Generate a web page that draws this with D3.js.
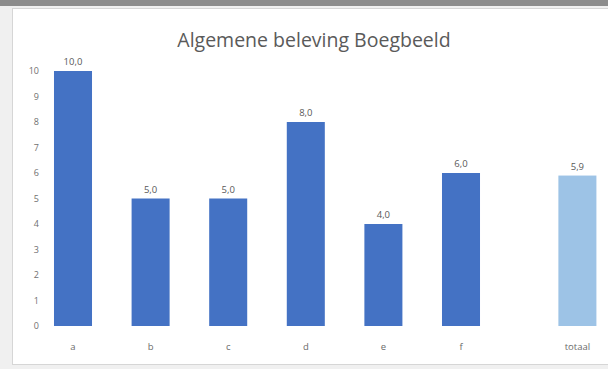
<!DOCTYPE html>
<html><head><meta charset="utf-8">
<script src="https://cdn.jsdelivr.net/npm/d3@7"></script>
<style>
html,body{margin:0;padding:0;background:#efefef;}
svg{display:block;}
</style></head>
<body>
<script>
const categories = ["a","b","c","d","e","f"];
const values = [10, 5, 5, 8, 4, 6];
const totalLabel = "totaal";
const totalValue = 5.9;
const yTicks = [0,1,2,3,4,5,6,7,8,9,10];
const title = "Algemene beleving Boegbeeld";

const W = 608, H = 369;
const svg = d3.select("body").append("svg").attr("width", W).attr("height", H);

// backgrounds
svg.append("rect").attr("x",0).attr("y",0).attr("width",W).attr("height",H).attr("fill","#f0f0f0");
svg.append("rect").attr("x",0).attr("y",0).attr("width",W).attr("height",6).attr("fill","#8c8c8c");
svg.append("rect").attr("x",12.5).attr("y",8.5).attr("width",W).attr("height",356)
  .attr("fill","#ffffff").attr("stroke","#d6d6d6");

const fmt = v => d3.format(".1f")(v).replace(".", ",");

const x = d3.scaleBand().domain(categories).range([34.2, 499.8]).paddingInner(0.51).paddingOuter(0.255);
const y = d3.scaleLinear().domain([0,10]).range([326, 71]);
const bw = x.bandwidth();
const totalX = x(categories[categories.length-1]) + 1.5 * x.step();

// y axis labels
const yAxis = d3.axisLeft(y).tickValues(yTicks).tickSize(0).tickPadding(0).tickFormat(d3.format("d"));
const ya = svg.append("g").attr("transform","translate(39,0)").call(yAxis);
ya.select(".domain").remove();
ya.selectAll("text").attr("fill","#707070").attr("font-size","9px").attr("font-family","Open Sans, sans-serif");

// bars
svg.selectAll(".bar").data(categories.map((c,i)=>({c, v: values[i]}))).enter()
  .append("rect").attr("x", d=>x(d.c)).attr("y", d=>y(d.v)).attr("width", bw)
  .attr("height", d=>y(0)-y(d.v)).attr("fill","#4472c4");
svg.append("rect").attr("x", totalX).attr("y", y(totalValue)).attr("width", bw)
  .attr("height", y(0)-y(totalValue)).attr("fill","#9dc3e6");

// value labels
const lab = {fill:"#595959", size:"9.5px"};
svg.selectAll(".vl").data(categories.map((c,i)=>({c, v: values[i]}))).enter()
  .append("text").attr("x", d=>x(d.c)+bw/2).attr("y", d=>y(d.v)-6)
  .attr("text-anchor","middle").attr("font-size",lab.size).attr("fill",lab.fill)
  .attr("font-family","Open Sans, sans-serif").text(d=>fmt(d.v));
svg.append("text").attr("x", totalX+bw/2).attr("y", y(totalValue)-6)
  .attr("text-anchor","middle").attr("font-size",lab.size).attr("fill",lab.fill)
  .attr("font-family","Open Sans, sans-serif").text(fmt(totalValue));

// x labels
const xl = categories.map(c=>({t:c, cx:x(c)+bw/2})).concat([{t:totalLabel, cx: totalX+bw/2}]);
svg.selectAll(".xl").data(xl).enter().append("text")
  .attr("x", d=>d.cx).attr("y", 350).attr("text-anchor","middle")
  .attr("font-size","9.5px").attr("fill","#6b6b6b").attr("font-family","Open Sans, sans-serif")
  .text(d=>d.t);

// title
svg.append("text").attr("x", 314).attr("y", 47).attr("text-anchor","middle")
  .attr("font-size","19.5px").attr("fill","#5a5a5a").attr("font-family","Open Sans, sans-serif")
  .text(title);
</script>
</body></html>
